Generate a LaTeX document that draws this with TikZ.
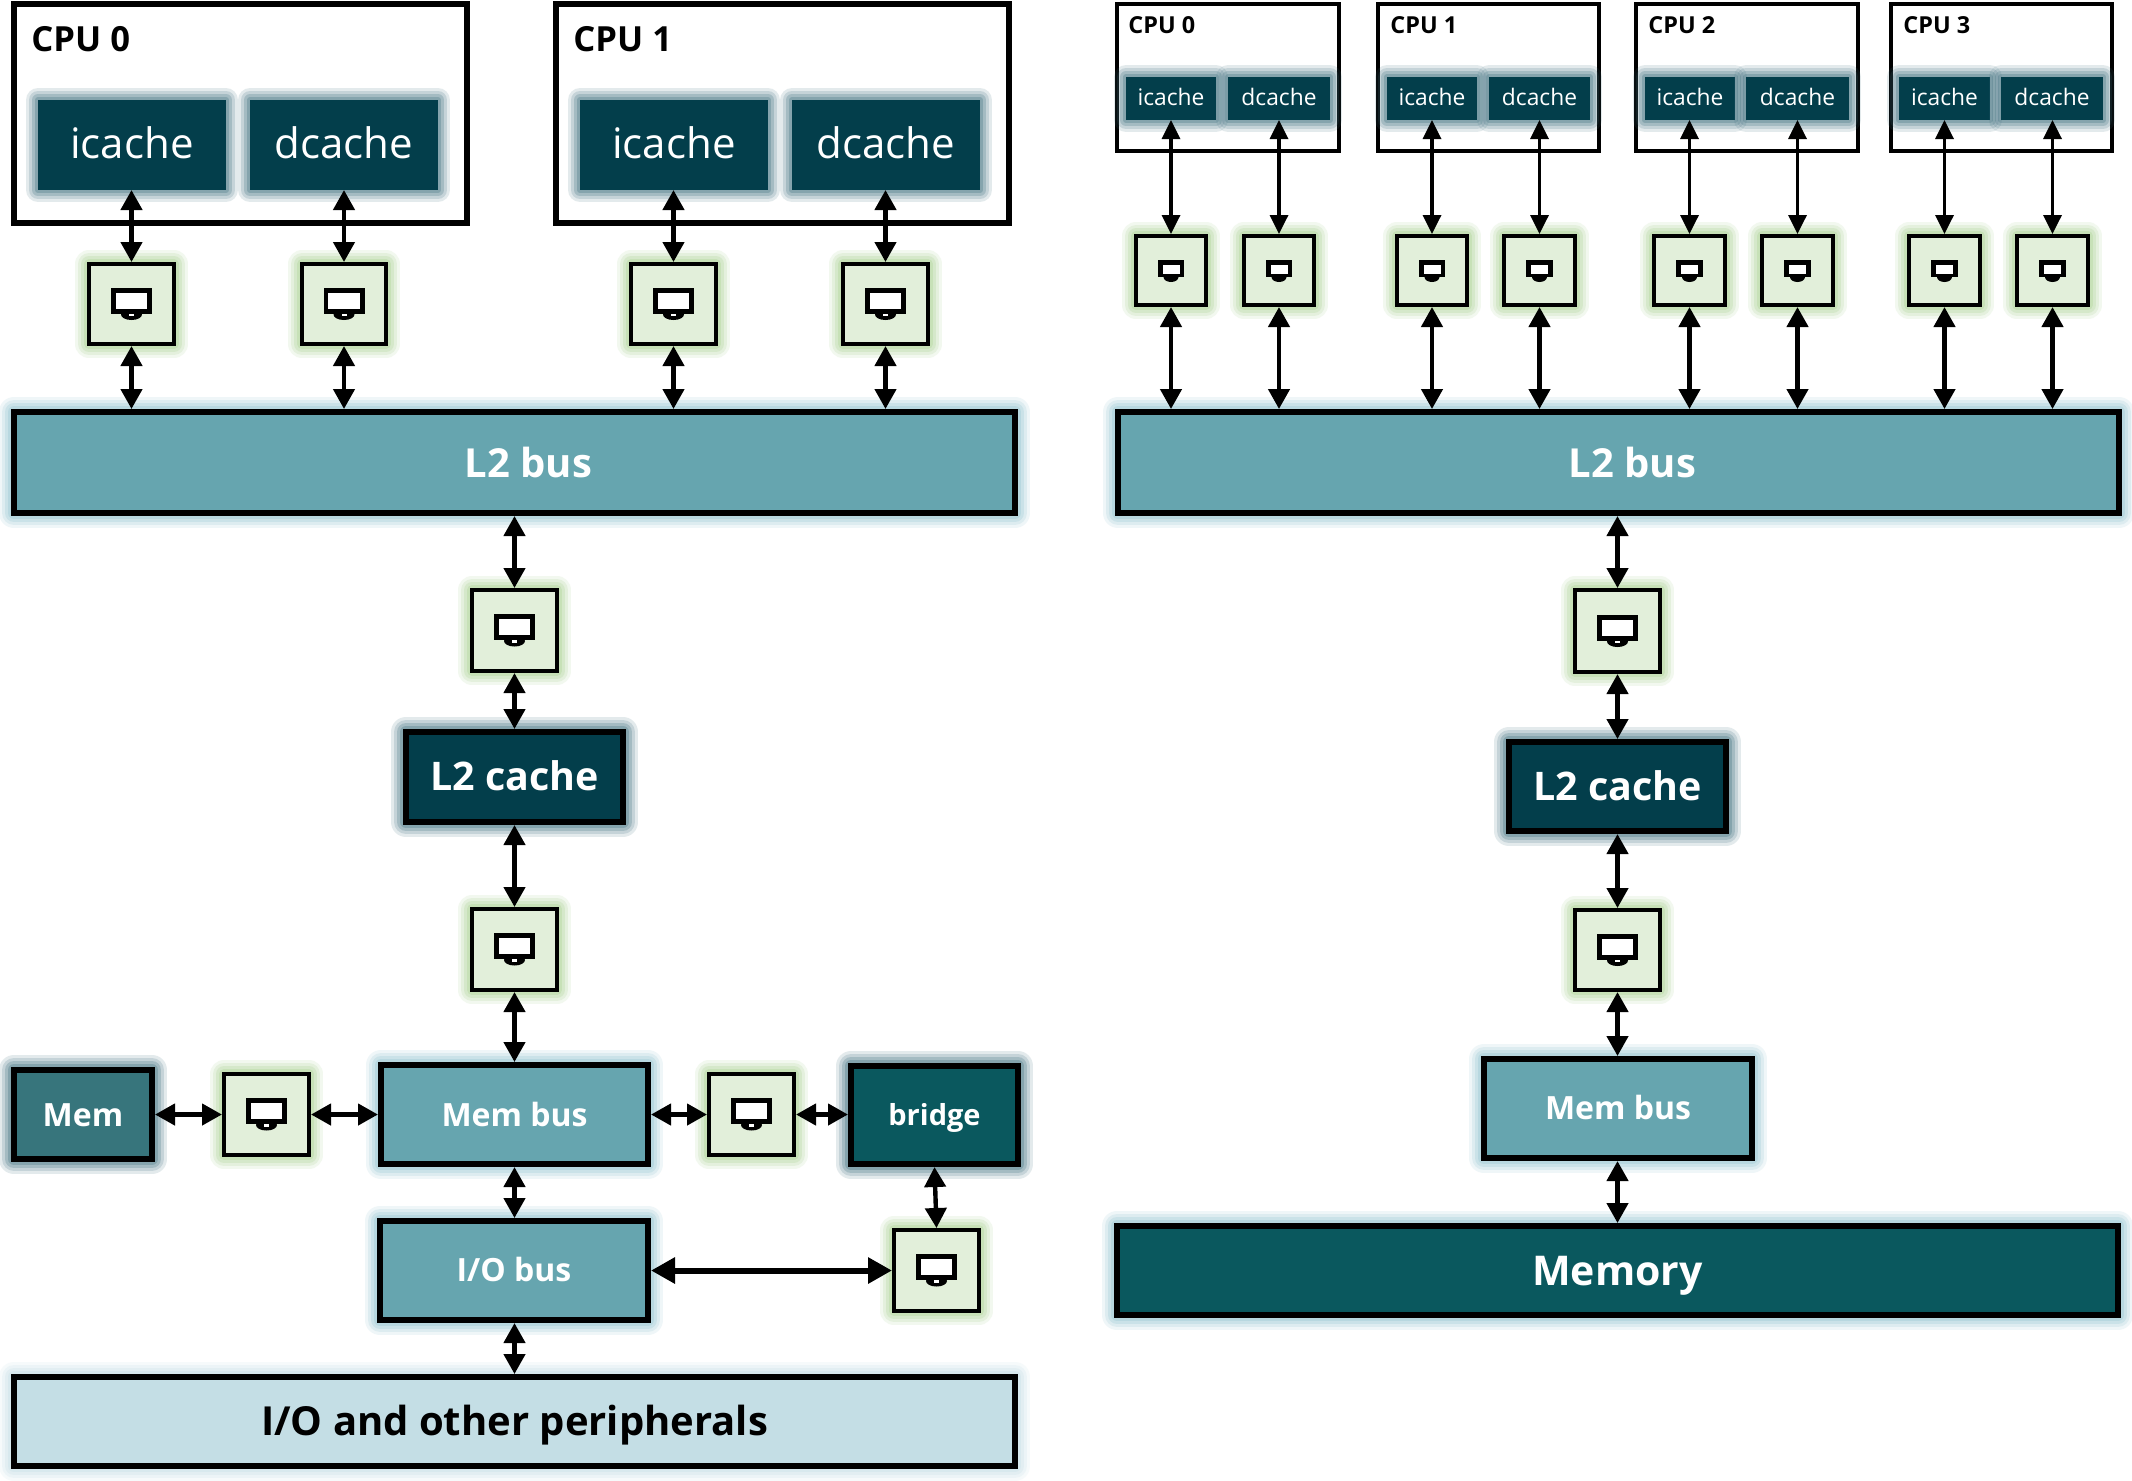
\documentclass[tikz,border=0pt]{standalone}
\usepackage{fontspec}
\setmainfont{Open Sans}
\usetikzlibrary{arrows.meta}
\definecolor{cdark}{HTML}{033E4B}
\definecolor{cbus}{HTML}{66A5AF}
\definecolor{cbridge}{HTML}{0A585E}
\definecolor{cmem}{HTML}{37757C}
\definecolor{cperi}{HTML}{C4DEE5}
\definecolor{cmon}{HTML}{E2EFDA}
\definecolor{gmon}{HTML}{A9D18E}
\definecolor{gdark}{HTML}{3F6F7F}
\definecolor{gbus}{HTML}{8FC4CF}
\newcommand{\fs}[1]{\fontsize{#1}{#1}\selectfont}
\newcommand{\bx}[7]{\node[#6,minimum width={(#4-#2)*.5pt-\pgflinewidth},minimum height={(#5-#3)*.5pt-\pgflinewidth}] (#1) at ({(#2+#4)/2},{(#3+#5)/2}) {#7};}
\newcommand{\mn}[5]{\bx{#1}{#2}{#3}{#4}{#5}{monbox}{}\path (#1.center) pic {monitor};}
\newcommand{\ms}[5]{\bx{#1}{#2}{#3}{#4}{#5}{monbox}{}\path (#1.center) pic {monitorsmall};}
\tikzset{
  x=.5pt,y=-.5pt,
  every node/.style={inner sep=0pt},
  glow/.style={
    preaction={draw=#1,draw opacity=.14,line width=\pgflinewidth+6pt,line join=round},
    preaction={draw=#1,draw opacity=.18,line width=\pgflinewidth+4.5pt,line join=round},
    preaction={draw=#1,draw opacity=.24,line width=\pgflinewidth+3pt,line join=round},
    preaction={draw=#1,draw opacity=.3,line width=\pgflinewidth+1.5pt,line join=round}},
  off/.style={text height=#1*1pt,text depth=0pt},
  cpubox/.style={draw=black,fill=white,line width=3pt},
  cpusmall/.style={draw=black,fill=white,line width=2pt},
  cpulab/.style={anchor=base west,font=\fs{17.3}\bfseries,text=black},
  cpulabs/.style={anchor=base west,font=\fs{11.7}\bfseries,text=black},
  cachebig/.style={fill=cdark,line width=0pt,glow=gdark,text=white,font=\fs{21},off=13},
  cachesmall/.style={fill=cdark,line width=0pt,glow=gdark,text=white,font=\fs{11.4},off=6.5},
  monbox/.style={draw=black,fill=cmon,line width=2.1pt,glow=gmon},
  busbox/.style={draw=black,fill=cbus,line width=3pt,glow=gbus,text=white,font=\bfseries},
  cachebox/.style={draw=black,fill=cdark,line width=3pt,glow=gdark,text=white,font=\fs{19.7}\bfseries,off=13.5},
  bi/.style={line width=2.2pt,{Triangle[width=10.5pt,length=10pt]}-{Triangle[width=10.5pt,length=10pt]}},
  bit/.style={line width=1.7pt,{Triangle[width=9pt,length=9.5pt]}-{Triangle[width=9pt,length=9.5pt]}},
  bik/.style={line width=3pt,{Triangle[width=12.5pt,length=12pt]}-{Triangle[width=12.5pt,length=12pt]}},
  monitor/.pic={
    \fill[black] (0,10.5) ellipse [x radius=10.5,y radius=5.5];
    \fill[black] (-20.5,-16.3) rectangle (20.5,9.7);
    \fill[white] (-15.7,-11.3) rectangle (15.7,4.7);
    \fill[white] (-2.5,9.7) rectangle (2.5,12.2);
  },
  monitorsmall/.pic={
    \fill[black] (0,6.5) ellipse [x radius=7.5,y radius=5];
    \fill[black] (-13.3,-10.5) rectangle (13.3,6.5);
    \fill[white] (-8.5,-5.5) rectangle (8.5,3);
  }
}
\begin{document}
\begin{tikzpicture}
\useasboundingbox (0,0) rectangle (2132,1480);
\fill[white] (0,0) rectangle (2132,1480);
% left: CPUs
\bx{lcpua}{11}{1}{470}{226}{cpubox}{}
\bx{lcpub}{553}{1}{1012}{226}{cpubox}{}
\node[cpulab] (lcpual) at (31,51) {CPU 0};
\node[cpulab] (lcpubl) at (573,51) {CPU 1};
\bx{liA}{38}{100}{226}{190}{cachebig}{icache}
\bx{ldA}{250}{100}{438}{190}{cachebig}{dcache}
\bx{liB}{580}{100}{768}{190}{cachebig}{icache}
\bx{ldB}{792}{100}{980}{190}{cachebig}{dcache}
\mn{lmA}{87}{262}{176}{346}
\mn{lmB}{300}{262}{388}{346}
\mn{lmC}{629}{262}{718}{346}
\mn{lmD}{841}{262}{930}{346}
\bx{lbus}{11}{409}{1018}{516}{busbox,font=\fs{20}\bfseries,off=14.5}{\hspace*{14pt}L2 bus}
\mn{lmE}{470}{588}{559}{673}
\bx{lcache}{403}{729}{626}{825}{cachebox}{L2 cache}
\mn{lmF}{470}{907}{559}{992}
\bx{lmem}{11}{1067}{155}{1162}{draw=black,fill=cmem,line width=3pt,glow=gdark,text=white,font=\fs{16}\bfseries,off=11.5}{Mem}
\mn{lmG}{222}{1072}{311}{1157}
\bx{lmembus}{378}{1062}{651}{1167}{busbox,font=\fs{16}\bfseries,off=11.5}{Mem bus}
\mn{lmH}{707}{1072}{796}{1157}
\bx{lbridge}{848}{1063}{1021}{1167}{draw=black,fill=cbridge,line width=3.2pt,glow=gdark,text=white,font=\fs{14.5}\bfseries,off=10}{bridge}
\bx{liobus}{377}{1218}{651}{1323}{busbox,font=\fs{16}\bfseries,off=11}{I/O bus}
\mn{lmI}{892}{1228}{981}{1313}
\bx{lperi}{11}{1374}{1018}{1469}{draw=black,fill=cperi,line width=3pt,glow=cperi,text=black,font=\fs{20}\bfseries,off=13.5}{I/O and other peripherals}
% right
\foreach \n/\a/\b/\ia/\ib/\da/\db/\lx/\lab in {a/1115/1341/1126/1216/1228/1330/1128/CPU 0,b/1376/1601/1387/1477/1489/1590/1390/CPU 1,c/1634/1860/1645/1735/1746/1849/1648/CPU 2,d/1889/2114/1899/1990/2001/2103/1903/CPU 3}{
  \bx{rcpu\n}{\a}{2}{\b}{153}{cpusmall}{}
  \node[cpulabs] (rl\n) at (\lx,33) {\lab};
  \bx{ri\n}{\ia}{77}{\ib}{120}{cachesmall}{icache}
  \bx{rd\n}{\da}{77}{\db}{120}{cachesmall}{dcache}
}
\foreach \n/\a/\b in {a/1134/1208,b/1242/1316,c/1395/1469,d/1502/1577,e/1652/1727,f/1760/1835,g/1907/1982,h/2015/2090}{
  \ms{rm\n}{\a}{234}{\b}{307}
}
\bx{rbus}{1115}{409}{2122}{516}{busbox,font=\fs{20}\bfseries,off=14.5}{\hspace*{14pt}L2 bus}
\mn{rmE}{1573}{588}{1662}{674}
\bx{rcache}{1506}{739}{1729}{834}{cachebox}{L2 cache}
\mn{rmF}{1573}{908}{1662}{992}
\bx{rmembus}{1481}{1056}{1755}{1161}{busbox,font=\fs{16}\bfseries,off=11}{Mem bus}
\bx{rmemory}{1114}{1223}{2121}{1318}{draw=black,fill=cbridge,line width=3pt,glow=gbus,text=white,font=\fs{20.5}\bfseries,off=14.5}{Memory}
% connectors left
\foreach \c/\m in {liA/lmA,ldA/lmB,liB/lmC,ldB/lmD}{
  \draw[bi] (\m.north |- \c.south) -- (\m.north);
  \draw[bi] (\m.south) -- (\m.south |- lbus.north);
}
\draw[bi] (lmE.north |- lbus.south) -- (lmE.north);
\draw[bi] (lmE.south) -- (lmE.south |- lcache.north);
\draw[bi] (lmF.north |- lcache.south) -- (lmF.north);
\draw[bi] (lmF.south) -- (lmF.south |- lmembus.north);
\draw[bi] (lmem.east) -- (lmG.west);
\draw[bi] (lmG.east) -- (lmG.east -| lmembus.west);
\draw[bi] (lmembus.east |- lmH.west) -- (lmH.west);
\draw[bi] (lmH.east) -- (lmH.east -| lbridge.west);
\draw[bi] (lbridge.south) -- (lmI.north);
\draw[bi] (lmF.south |- lmembus.south) -- (lmF.south |- liobus.north);
\draw[bi] (lmF.south |- liobus.south) -- (lmF.south |- lperi.north);
\draw[bik] (liobus.east |- lmI.west) -- (lmI.west);
% connectors right
\foreach \c/\m in {ria/rma,rda/rmb,rib/rmc,rdb/rmd,ric/rme,rdc/rmf,rid/rmg,rdd/rmh}{
  \draw[bit] (\m.north |- \c.south) -- (\m.north);
  \draw[bi] (\m.south) -- (\m.south |- rbus.north);
}
\draw[bi] (rmE.north |- rbus.south) -- (rmE.north);
\draw[bi] (rmE.south) -- (rmE.south |- rcache.north);
\draw[bi] (rmF.north |- rcache.south) -- (rmF.north);
\draw[bi] (rmF.south) -- (rmF.south |- rmembus.north);
\draw[bi] (rmF.south |- rmembus.south) -- (rmF.south |- rmemory.north);
\end{tikzpicture}
\end{document}
